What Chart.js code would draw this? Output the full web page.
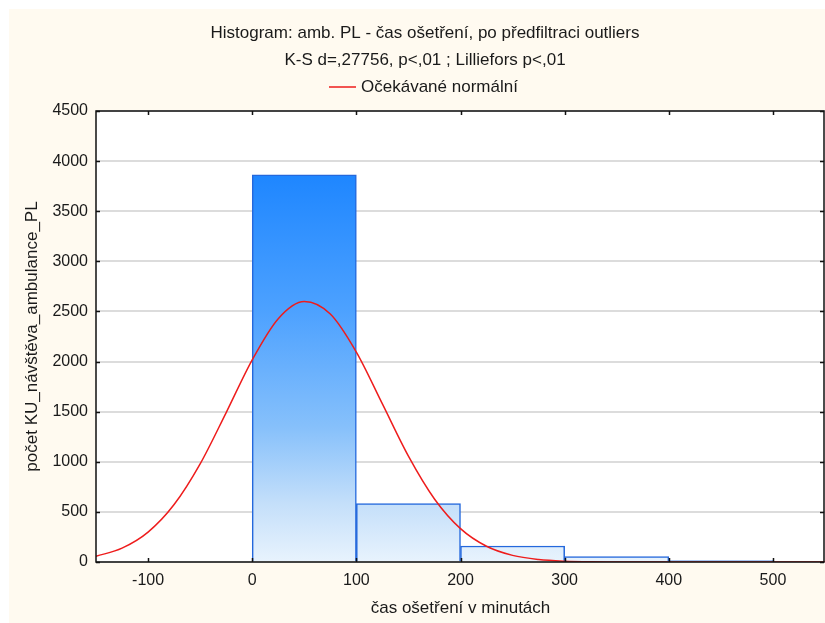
<!DOCTYPE html>
<html>
<head>
<meta charset="utf-8">
<script src="https://cdn.jsdelivr.net/npm/chart.js@4.4.1/dist/chart.umd.min.js"></script>
<style>
  html, body { margin: 0; padding: 0; background: #fff; }
  #wrap { width: 825px; height: 623px; }
</style>
</head>
<body>
<div id="wrap"><canvas id="hist" width="825" height="623"></canvas></div>
<script>
// histogram bins (centre of each 100-minute class) and their counts
const binCenters = [50, 150, 250, 350, 450];
const binCounts = [3862, 584, 160, 55, 15];

// expected normal curve, sampled every 25 minutes
const curveMinutes = [-150, -125, -100, -75, -50, -25, 0, 25, 50, 75, 100, 125, 150, 175, 200,
    225, 250, 275, 300, 325, 350, 375, 400, 425, 450, 475, 500, 525, 550];
const curveCounts = [57, 138, 298, 573, 979, 1491, 2017, 2428, 2599, 2474, 2094, 1577, 1056, 629, 333,
    157, 66, 25, 8, 2, 1, 0, 0, 0, 0, 0, 0, 0, 0];

const xTickValues = [-100, 0, 100, 200, 300, 400, 500];

const titleLines = [
    'Histogram: amb. PL - čas ošetření, po předfiltraci outliers',
    'K-S d=,27756, p<,01 ; Lilliefors p<,01'
];
const legendText = 'Očekávané normální';
const xTitle = 'čas ošetření v minutách';
const yTitle = 'počet KU_návštěva_ambulance_PL';

const FONT = '"Liberation Sans", Arial, sans-serif';
const INK = '#1a1a1a';

const barData = binCenters.map((x, i) => ({ x: x, y: binCounts[i] }));
const curveData = curveMinutes.map((x, i) => ({ x: x, y: curveCounts[i] }));

function barFill(ctx) {
    const area = ctx.chart.chartArea;
    if (!area) return '#4ea2ff';
    const g = ctx.chart.ctx.createLinearGradient(0, area.top, 0, area.bottom);
    g.addColorStop(0, '#1080ff');
    g.addColorStop(0.14, '#1e86ff');
    g.addColorStop(0.45, '#4ea2ff');
    g.addColorStop(0.7, '#86c0fb');
    g.addColorStop(0.87, '#c4dffa');
    g.addColorStop(1, '#e8f3fd');
    return g;
}

// backdrop, frame, inner ticks and all texts
const decor = {
    id: 'decor',
    beforeDraw(chart) {
        const c = chart.ctx;
        const a = chart.chartArea;
        c.save();
        c.fillStyle = '#ffffff';
        c.fillRect(0, 0, chart.width, chart.height);
        c.fillStyle = '#fffaf0';
        c.fillRect(9, 9, chart.width - 9, chart.height - 9);
        c.fillStyle = '#ffffff';
        c.fillRect(a.left, a.top, a.right - a.left, a.bottom - a.top);
        c.restore();
    },
    afterDraw(chart) {
        const c = chart.ctx;
        const a = chart.chartArea;
        const xs = chart.scales.x;
        const ys = chart.scales.y;
        c.save();

        c.strokeStyle = '#111';
        c.lineWidth = 1.5;
        c.strokeRect(a.left, a.top, a.right - 1 - a.left, a.bottom - a.top);

        // inward tick marks on all four sides
        c.beginPath();
        xs.ticks.forEach(t => {
            const px = Math.round(xs.getPixelForValue(t.value)) + 0.5;
            c.moveTo(px, a.bottom); c.lineTo(px, a.bottom - 4);
            c.moveTo(px, a.top); c.lineTo(px, a.top + 4);
        });
        ys.ticks.forEach(t => {
            const py = Math.round(ys.getPixelForValue(t.value)) + 0.5;
            c.moveTo(a.left, py); c.lineTo(a.left + 4, py);
            c.moveTo(a.right - 1, py); c.lineTo(a.right - 5, py);
        });
        c.stroke();

        c.fillStyle = INK;
        c.font = '17px ' + FONT;
        c.textAlign = 'center';
        c.textBaseline = 'middle';
        c.fillText(titleLines[0], 425, 33);
        c.fillText(titleLines[1], 425, 60);

        // legend
        c.strokeStyle = '#ee1c1c';
        c.lineWidth = 1.5;
        c.beginPath();
        c.moveTo(329, 87); c.lineTo(356, 87);
        c.stroke();
        c.textAlign = 'left';
        c.fillText(legendText, 361, 87);

        c.textAlign = 'center';
        c.fillText(xTitle, (a.left + a.right) / 2, 608);
        c.translate(32, (a.top + a.bottom) / 2);
        c.rotate(-Math.PI / 2);
        c.fillText(yTitle, 0, 0);
        c.restore();
    }
};

new Chart(document.getElementById('hist'), {
    type: 'bar',
    data: {
        datasets: [
            {
                type: 'line',
                label: legendText,
                data: curveData,
                borderColor: '#ee1c1c',
                borderWidth: 1.5,
                pointRadius: 0,
                cubicInterpolationMode: 'monotone',
                fill: false,
                order: 0
            },
            {
                type: 'bar',
                label: 'četnost',
                data: barData,
                backgroundColor: barFill,
                borderColor: '#2468dc',
                borderWidth: 1.5,
                barPercentage: 1,
                categoryPercentage: 1,
                order: 1
            }
        ]
    },
    options: {
        responsive: false,
        animation: false,
        events: [],
        layout: { padding: { top: 111, left: 0, right: 0, bottom: 0 } },
        plugins: {
            legend: { display: false },
            title: { display: false },
            tooltip: { enabled: false }
        },
        scales: {
            x: {
                type: 'linear',
                min: -150,
                max: 550,
                offset: false,
                grid: { display: false, drawTicks: false },
                border: { display: false },
                afterBuildTicks: (s) => { s.ticks = xTickValues.map(v => ({ value: v })); },
                ticks: {
                    padding: 9,
                    color: INK,
                    font: { family: FONT, size: 16 },
                    maxRotation: 0,
                    autoSkip: false,
                    callback: (v) => String(v)
                },
                afterFit: (s) => { s.height = 61; }
            },
            y: {
                min: 0,
                max: 4500,
                grid: { color: '#dcdcdc', lineWidth: 2, drawTicks: false },
                border: { display: false },
                ticks: {
                    stepSize: 500,
                    padding: 8,
                    color: INK,
                    font: { family: FONT, size: 16 },
                    callback: (v) => String(v)
                },
                afterFit: (s) => { s.width = 96; }
            }
        }
    },
    plugins: [decor]
});
</script>
</body>
</html>
